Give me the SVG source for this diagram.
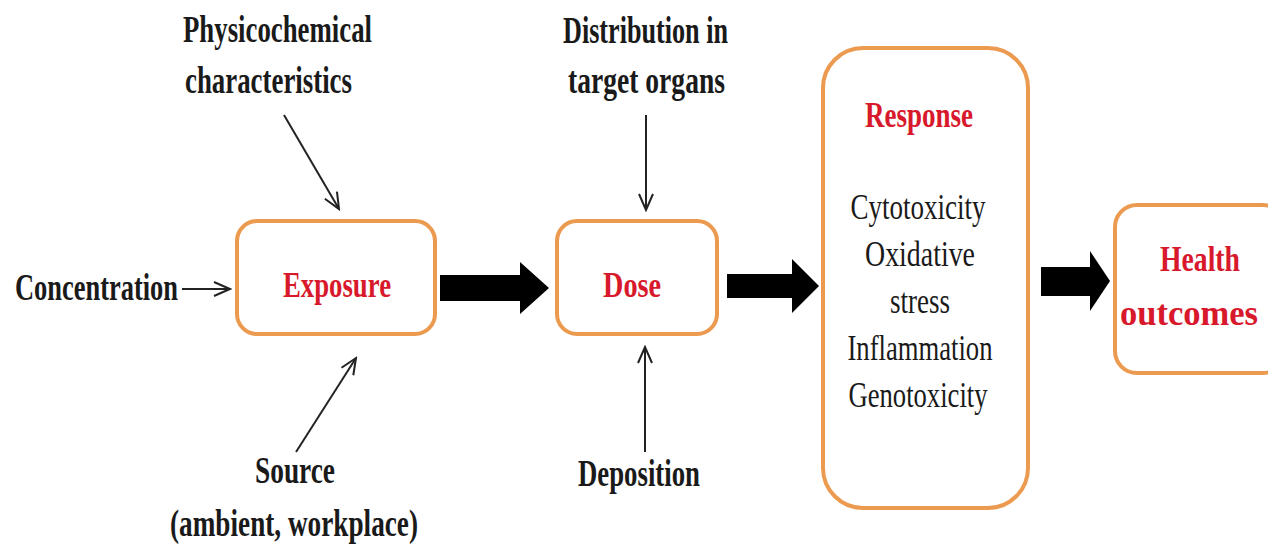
<svg xmlns="http://www.w3.org/2000/svg" width="1268" height="550" viewBox="0 0 1268 550">
<style>
.box{fill:#fff;stroke:#EC9A4F;stroke-width:4}
.lb{font-family:"Liberation Serif",serif;font-weight:bold;font-size:37px;fill:#1a1a1a}
.rd{font-family:"Liberation Serif",serif;font-weight:bold;font-size:36px;fill:#D8192B;text-anchor:middle}
.rg{font-family:"Liberation Serif",serif;font-size:36px;fill:#1a1a1a;text-anchor:middle}
.thin{stroke:#222;stroke-width:2;fill:none;marker-end:url(#open)}
.big{fill:#000}
</style>
<defs>
<marker id="open" viewBox="0 0 20 20" refX="18" refY="10" markerWidth="20" markerHeight="20" markerUnits="userSpaceOnUse" orient="auto">
<polyline points="2,3 18,10 2,17" fill="none" stroke="#222" stroke-width="2"/>
</marker>
</defs>
<rect width="1268" height="550" fill="#fff"/>
<g id="exposure">
<rect class="box" x="237" y="221" width="198" height="113" rx="20"/>
<text class="rd" x="337" y="297" textLength="108" lengthAdjust="spacingAndGlyphs">Exposure</text>
</g>
<g id="dose">
<rect class="box" x="557" y="221" width="160" height="113" rx="20"/>
<text class="rd" x="632" y="297" textLength="58" lengthAdjust="spacingAndGlyphs">Dose</text>
</g>
<g id="response">
<rect class="box" x="823" y="48" width="205" height="460" rx="40"/>
<text class="rd" x="919" y="127" textLength="108" lengthAdjust="spacingAndGlyphs">Response</text>
<text class="rg" x="918" y="219" textLength="135" lengthAdjust="spacingAndGlyphs">Cytotoxicity</text>
<text class="rg" x="920" y="266" textLength="110" lengthAdjust="spacingAndGlyphs">Oxidative</text>
<text class="rg" x="920" y="313" textLength="60" lengthAdjust="spacingAndGlyphs">stress</text>
<text class="rg" x="920" y="360" textLength="145" lengthAdjust="spacingAndGlyphs">Inflammation</text>
<text class="rg" x="918" y="407" textLength="139" lengthAdjust="spacingAndGlyphs">Genotoxicity</text>
</g>
<g id="health">
<rect class="box" x="1115" y="205" width="170" height="168" rx="22"/>
<text class="rd" x="1200" y="271" textLength="80" lengthAdjust="spacingAndGlyphs">Health</text>
<text class="rd" x="1189" y="325" textLength="138" lengthAdjust="spacingAndGlyphs">outcomes</text>
</g>
<g id="labels">
<text class="lb" x="15" y="300" textLength="163" lengthAdjust="spacingAndGlyphs">Concentration</text>
<text class="lb" x="183" y="42" textLength="189" lengthAdjust="spacingAndGlyphs">Physicochemical</text>
<text class="lb" x="185" y="93" textLength="167" lengthAdjust="spacingAndGlyphs">characteristics</text>
<text class="lb" x="563" y="43" textLength="165" lengthAdjust="spacingAndGlyphs">Distribution in</text>
<text class="lb" x="568" y="93" textLength="157" lengthAdjust="spacingAndGlyphs">target organs</text>
<text class="lb" x="255" y="483" textLength="80" lengthAdjust="spacingAndGlyphs">Source</text>
<text class="lb" x="170" y="536" textLength="248" lengthAdjust="spacingAndGlyphs">(ambient, workplace)</text>
<text class="lb" x="578" y="486" textLength="122" lengthAdjust="spacingAndGlyphs">Deposition</text>
</g>
<g id="connectors">
<line class="thin" x1="182" y1="289" x2="230" y2="289"/>
<line class="thin" x1="284" y1="115" x2="339" y2="209"/>
<line class="thin" x1="296" y1="452" x2="356" y2="358"/>
<line class="thin" x1="646" y1="115" x2="646" y2="210"/>
<line class="thin" x1="645" y1="452" x2="645" y2="347"/>
<polygon class="big" points="440,275 520,275 520,262 549,288 520,314 520,301 440,301"/>
<polygon class="big" points="727,274 792,274 792,259 819,286 792,313 792,298 727,298"/>
<polygon class="big" points="1041,267 1090,267 1090,251 1110,281 1090,311 1090,296 1041,296"/>
</g>
</svg>
